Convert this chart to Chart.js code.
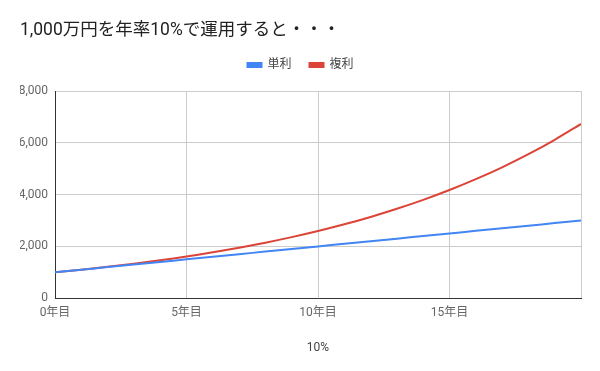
<!DOCTYPE html>
<html>
<head>
<meta charset="utf-8">
<script src="https://cdn.jsdelivr.net/npm/chart.js@4/dist/chart.umd.min.js"></script>
<style>
  html, body { margin: 0; padding: 0; background: #fff; }
  #wrap { width: 600px; height: 371px; }
</style>
</head>
<body>
<div id="wrap"><canvas id="chart"></canvas></div>
<script>
const years = [0, 1, 2, 3, 4, 5, 6, 7, 8, 9, 10, 11, 12, 13, 14, 15, 16, 17, 18, 19, 20];
const simple = [1000, 1100, 1200, 1300, 1400, 1500, 1600, 1700, 1800, 1900, 2000,
                2100, 2200, 2300, 2400, 2500, 2600, 2700, 2800, 2900, 3000];
const compound = [1000, 1100, 1210, 1331, 1464, 1611, 1772, 1949, 2144, 2358, 2594,
                  2853, 3138, 3452, 3797, 4177, 4595, 5054, 5560, 6116, 6727];
const yTicks = [0, 2000, 4000, 6000, 8000];
const xTickStep = 5;

const font = "Roboto, 'Noto Sans CJK JP', sans-serif";
Chart.defaults.font.family = font;

const toPoints = arr => arr.map((v, i) => ({ x: years[i], y: v }));

// extra space below the legend, like the original layout
const legendGap = {
    id: 'legendGap',
    afterInit(chart) {
        if (!chart.legend) return;
        const fit = chart.legend.fit;
        chart.legend.fit = function () {
            fit.call(this);
            this.height += 10;
        };
    }
};

new Chart(document.getElementById('chart').getContext('2d'), {
    type: 'line',
    data: {
        datasets: [{
            label: '単利',
            data: toPoints(simple),
            borderColor: '#4285f4',
            backgroundColor: '#4285f4',
            borderWidth: 2,
            pointRadius: 0,
            tension: 0.3
        }, {
            label: '複利',
            data: toPoints(compound),
            borderColor: '#db4437',
            backgroundColor: '#db4437',
            borderWidth: 2,
            pointRadius: 0,
            tension: 0.3
        }]
    },
    plugins: [legendGap],
    options: {
        responsive: true,
        maintainAspectRatio: false,
        animation: false,
        layout: { padding: { left: 20, right: 19, top: 0, bottom: 12 } },
        plugins: {
            title: {
                display: true,
                text: '1,000万円を年率10%で運用すると・・・',
                align: 'start',
                color: '#222',
                font: { size: 17.5, weight: 'normal' },
                padding: { top: 20, bottom: 0 }
            },
            legend: {
                labels: {
                    color: '#444',
                    font: { size: 12 },
                    boxWidth: 14,
                    boxHeight: 4,
                    padding: 18
                }
            },
            tooltip: { enabled: false }
        },
        scales: {
            x: {
                type: 'linear',
                min: years[0],
                max: years[years.length - 1],
                grid: { color: '#cccccc', drawTicks: false },
                border: { color: '#333', width: 1 },
                ticks: {
                    stepSize: xTickStep,
                    color: '#666',
                    font: { size: 12 },
                    padding: 8,
                    maxRotation: 0,
                    callback: v => v === years[years.length - 1] ? '' : v + '年目'
                },
                title: {
                    display: true,
                    text: '10%',
                    color: '#444',
                    font: { size: 12 },
                    padding: { top: 12 }
                }
            },
            y: {
                min: yTicks[0],
                max: yTicks[yTicks.length - 1],
                grid: { color: '#cccccc', drawTicks: false },
                border: { color: '#333', width: 1 },
                afterBuildTicks: axis => { axis.ticks = yTicks.map(v => ({ value: v })); },
                afterFit: axis => { axis.width = 35; },
                ticks: {
                    color: '#666',
                    font: { size: 12 },
                    padding: 7,
                    callback: v => v.toLocaleString('en-US')
                }
            }
        }
    }
});
</script>
</body>
</html>
